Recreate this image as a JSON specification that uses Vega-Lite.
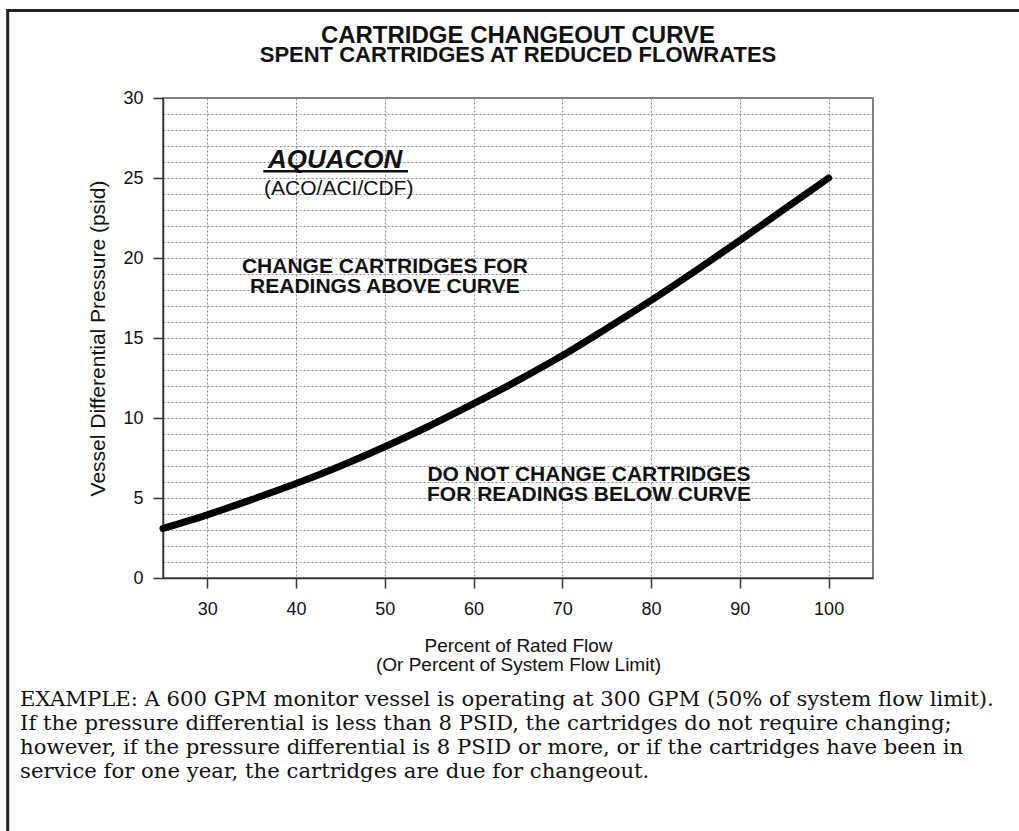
{
  "$schema": "https://vega.github.io/schema/vega-lite/v6.json",
  "width": 710,
  "height": 480,
  "autosize": {"type": "none"},
  "padding": {"left": 163, "top": 98, "right": 146, "bottom": 253},
  "background": "white",
  "config": {
    "font": "Liberation Sans",
    "view": {"stroke": "#555", "strokeWidth": 1.5}
  },
  "layer": [
    {
      "data": {"values": [
        {"flow": 25, "psid": 3.1},
        {"flow": 30, "psid": 3.95},
        {"flow": 35, "psid": 4.9},
        {"flow": 40, "psid": 5.9},
        {"flow": 45, "psid": 7.0},
        {"flow": 50, "psid": 8.2},
        {"flow": 55, "psid": 9.5},
        {"flow": 60, "psid": 10.9},
        {"flow": 65, "psid": 12.35},
        {"flow": 70, "psid": 13.9},
        {"flow": 75, "psid": 15.6},
        {"flow": 80, "psid": 17.35},
        {"flow": 85, "psid": 19.2},
        {"flow": 90, "psid": 21.1},
        {"flow": 95, "psid": 23.05},
        {"flow": 100, "psid": 25.0}
      ]},
      "mark": {"type": "line", "color": "#000", "strokeWidth": 7, "strokeCap": "round", "strokeJoin": "round", "interpolate": "monotone"},
      "encoding": {
        "x": {
          "field": "flow", "type": "quantitative",
          "scale": {"domain": [25, 105], "nice": false, "zero": false},
          "axis": {
            "title": ["Percent of Rated Flow", "(Or Percent of System Flow Limit)"],
            "values": [30, 40, 50, 60, 70, 80, 90, 100],
            "tickCount": 20,
            "grid": true, "gridColor": "#888", "gridDash": [2, 2], "gridWidth": 1,
            "domainColor": "#333", "domainWidth": 1.5,
            "tickColor": "#333", "tickWidth": 1.5, "tickSize": 10,
            "labelFontSize": 18, "labelColor": "#111", "labelPadding": 12, "labelFlush": false,
            "titleFontSize": 19, "titleFontWeight": "normal", "titleColor": "#111",
            "titlePadding": 18, "titleLineHeight": 19
          }
        },
        "y": {
          "field": "psid", "type": "quantitative",
          "scale": {"domain": [0, 30], "nice": false, "zero": false},
          "axis": {
            "title": "Vessel Differential Pressure (psid)",
            "values": [0,1,2,3,4,5,6,7,8,9,10,11,12,13,14,15,16,17,18,19,20,21,22,23,24,25,26,27,28,29,30],
            "tickCount": 40,
            "labelExpr": "datum.value % 5 === 0 ? datum.label : ''",
            "labelOverlap": false, "labelBound": false, "labelFlush": false,
            "tickOpacity": {"condition": {"test": "datum.value % 5 === 0", "value": 1}, "value": 0},
            "grid": true, "gridColor": "#888", "gridDash": [2, 2], "gridWidth": 1,
            "domainColor": "#333", "domainWidth": 1.5,
            "tickColor": "#333", "tickWidth": 1.5, "tickSize": 10,
            "labelFontSize": 18, "labelColor": "#111", "labelPadding": 10,
            "titleFontSize": 21, "titleFontWeight": "normal", "titleColor": "#111",
            "titlePadding": 14
          }
        }
      }
    },
    {
      "data": {"values": [{}]},
      "mark": {"type": "rect", "fill": "transparent", "stroke": "#222", "strokeWidth": 3, "clip": false},
      "encoding": {
        "x": {"datum": 7.5, "type": "quantitative"},
        "x2": {"datum": 125},
        "y": {"datum": 35.47, "type": "quantitative"},
        "y2": {"datum": -20}
      }
    },
    {
      "data": {"values": [{"x": 65.0, "y": 33.44, "label": "CARTRIDGE CHANGEOUT CURVE"}]},
      "mark": {"type": "text", "align": "center", "baseline": "alphabetic", "fontSize": 24, "fontWeight": "bold", "color": "#111"},
      "encoding": {
        "x": {"field": "x", "type": "quantitative"},
        "y": {"field": "y", "type": "quantitative"},
        "text": {"field": "label"}
      }
    },
    {
      "data": {"values": [{"x": 65.0, "y": 32.25, "label": "SPENT CARTRIDGES AT REDUCED FLOWRATES"}]},
      "mark": {"type": "text", "align": "center", "baseline": "alphabetic", "fontSize": 22, "fontWeight": "bold", "color": "#111"},
      "encoding": {
        "x": {"field": "x", "type": "quantitative"},
        "y": {"field": "y", "type": "quantitative"},
        "text": {"field": "label"}
      }
    },
    {
      "data": {"values": [{"x": 44.4, "y": 25.6, "label": "AQUACON"}]},
      "mark": {"type": "text", "align": "center", "baseline": "alphabetic", "fontSize": 26, "fontWeight": "bold", "fontStyle": "italic", "color": "#111"},
      "encoding": {
        "x": {"field": "x", "type": "quantitative"},
        "y": {"field": "y", "type": "quantitative"},
        "text": {"field": "label"}
      }
    },
    {
      "data": {"values": [{}]},
      "mark": {"type": "rule", "color": "#111", "strokeWidth": 2.5},
      "encoding": {
        "x": {"datum": 36.3, "type": "quantitative"},
        "x2": {"datum": 52.6},
        "y": {"datum": 25.42, "type": "quantitative"}
      }
    },
    {
      "data": {"values": [{"x": 44.8, "y": 23.94, "label": "(ACO/ACI/CDF)"}]},
      "mark": {"type": "text", "align": "center", "baseline": "alphabetic", "fontSize": 21, "color": "#111"},
      "encoding": {
        "x": {"field": "x", "type": "quantitative"},
        "y": {"field": "y", "type": "quantitative"},
        "text": {"field": "label"}
      }
    },
    {
      "data": {"values": [
        {"x": 50.0, "y": 19.06, "label": "CHANGE CARTRIDGES FOR"},
        {"x": 50.0, "y": 17.81, "label": "READINGS ABOVE CURVE"},
        {"x": 73.0, "y": 6.06, "label": "DO NOT CHANGE CARTRIDGES"},
        {"x": 73.0, "y": 4.81, "label": "FOR READINGS BELOW CURVE"}
      ]},
      "mark": {"type": "text", "align": "center", "baseline": "alphabetic", "fontSize": 21, "fontWeight": "bold", "color": "#111"},
      "encoding": {
        "x": {"field": "x", "type": "quantitative"},
        "y": {"field": "y", "type": "quantitative"},
        "text": {"field": "label"}
      }
    },
    {
      "data": {"values": [{}]},
      "mark": {"type": "text", "align": "left", "baseline": "alphabetic", "font": "DejaVu Serif", "fontSize": 21.2, "lineHeight": 24, "color": "#111"},
      "encoding": {
        "x": {"datum": 8.9, "type": "quantitative"},
        "y": {"datum": -8.0, "type": "quantitative"},
        "text": {"value": [
          "EXAMPLE: A 600 GPM monitor vessel is operating at 300 GPM (50% of system flow limit).",
          "If the pressure differential is less than 8 PSID, the cartridges do not require changing;",
          "however, if the pressure differential is 8 PSID or more, or if the cartridges have been in",
          "service for one year, the cartridges are due for changeout."
        ]}
      }
    }
  ]
}
